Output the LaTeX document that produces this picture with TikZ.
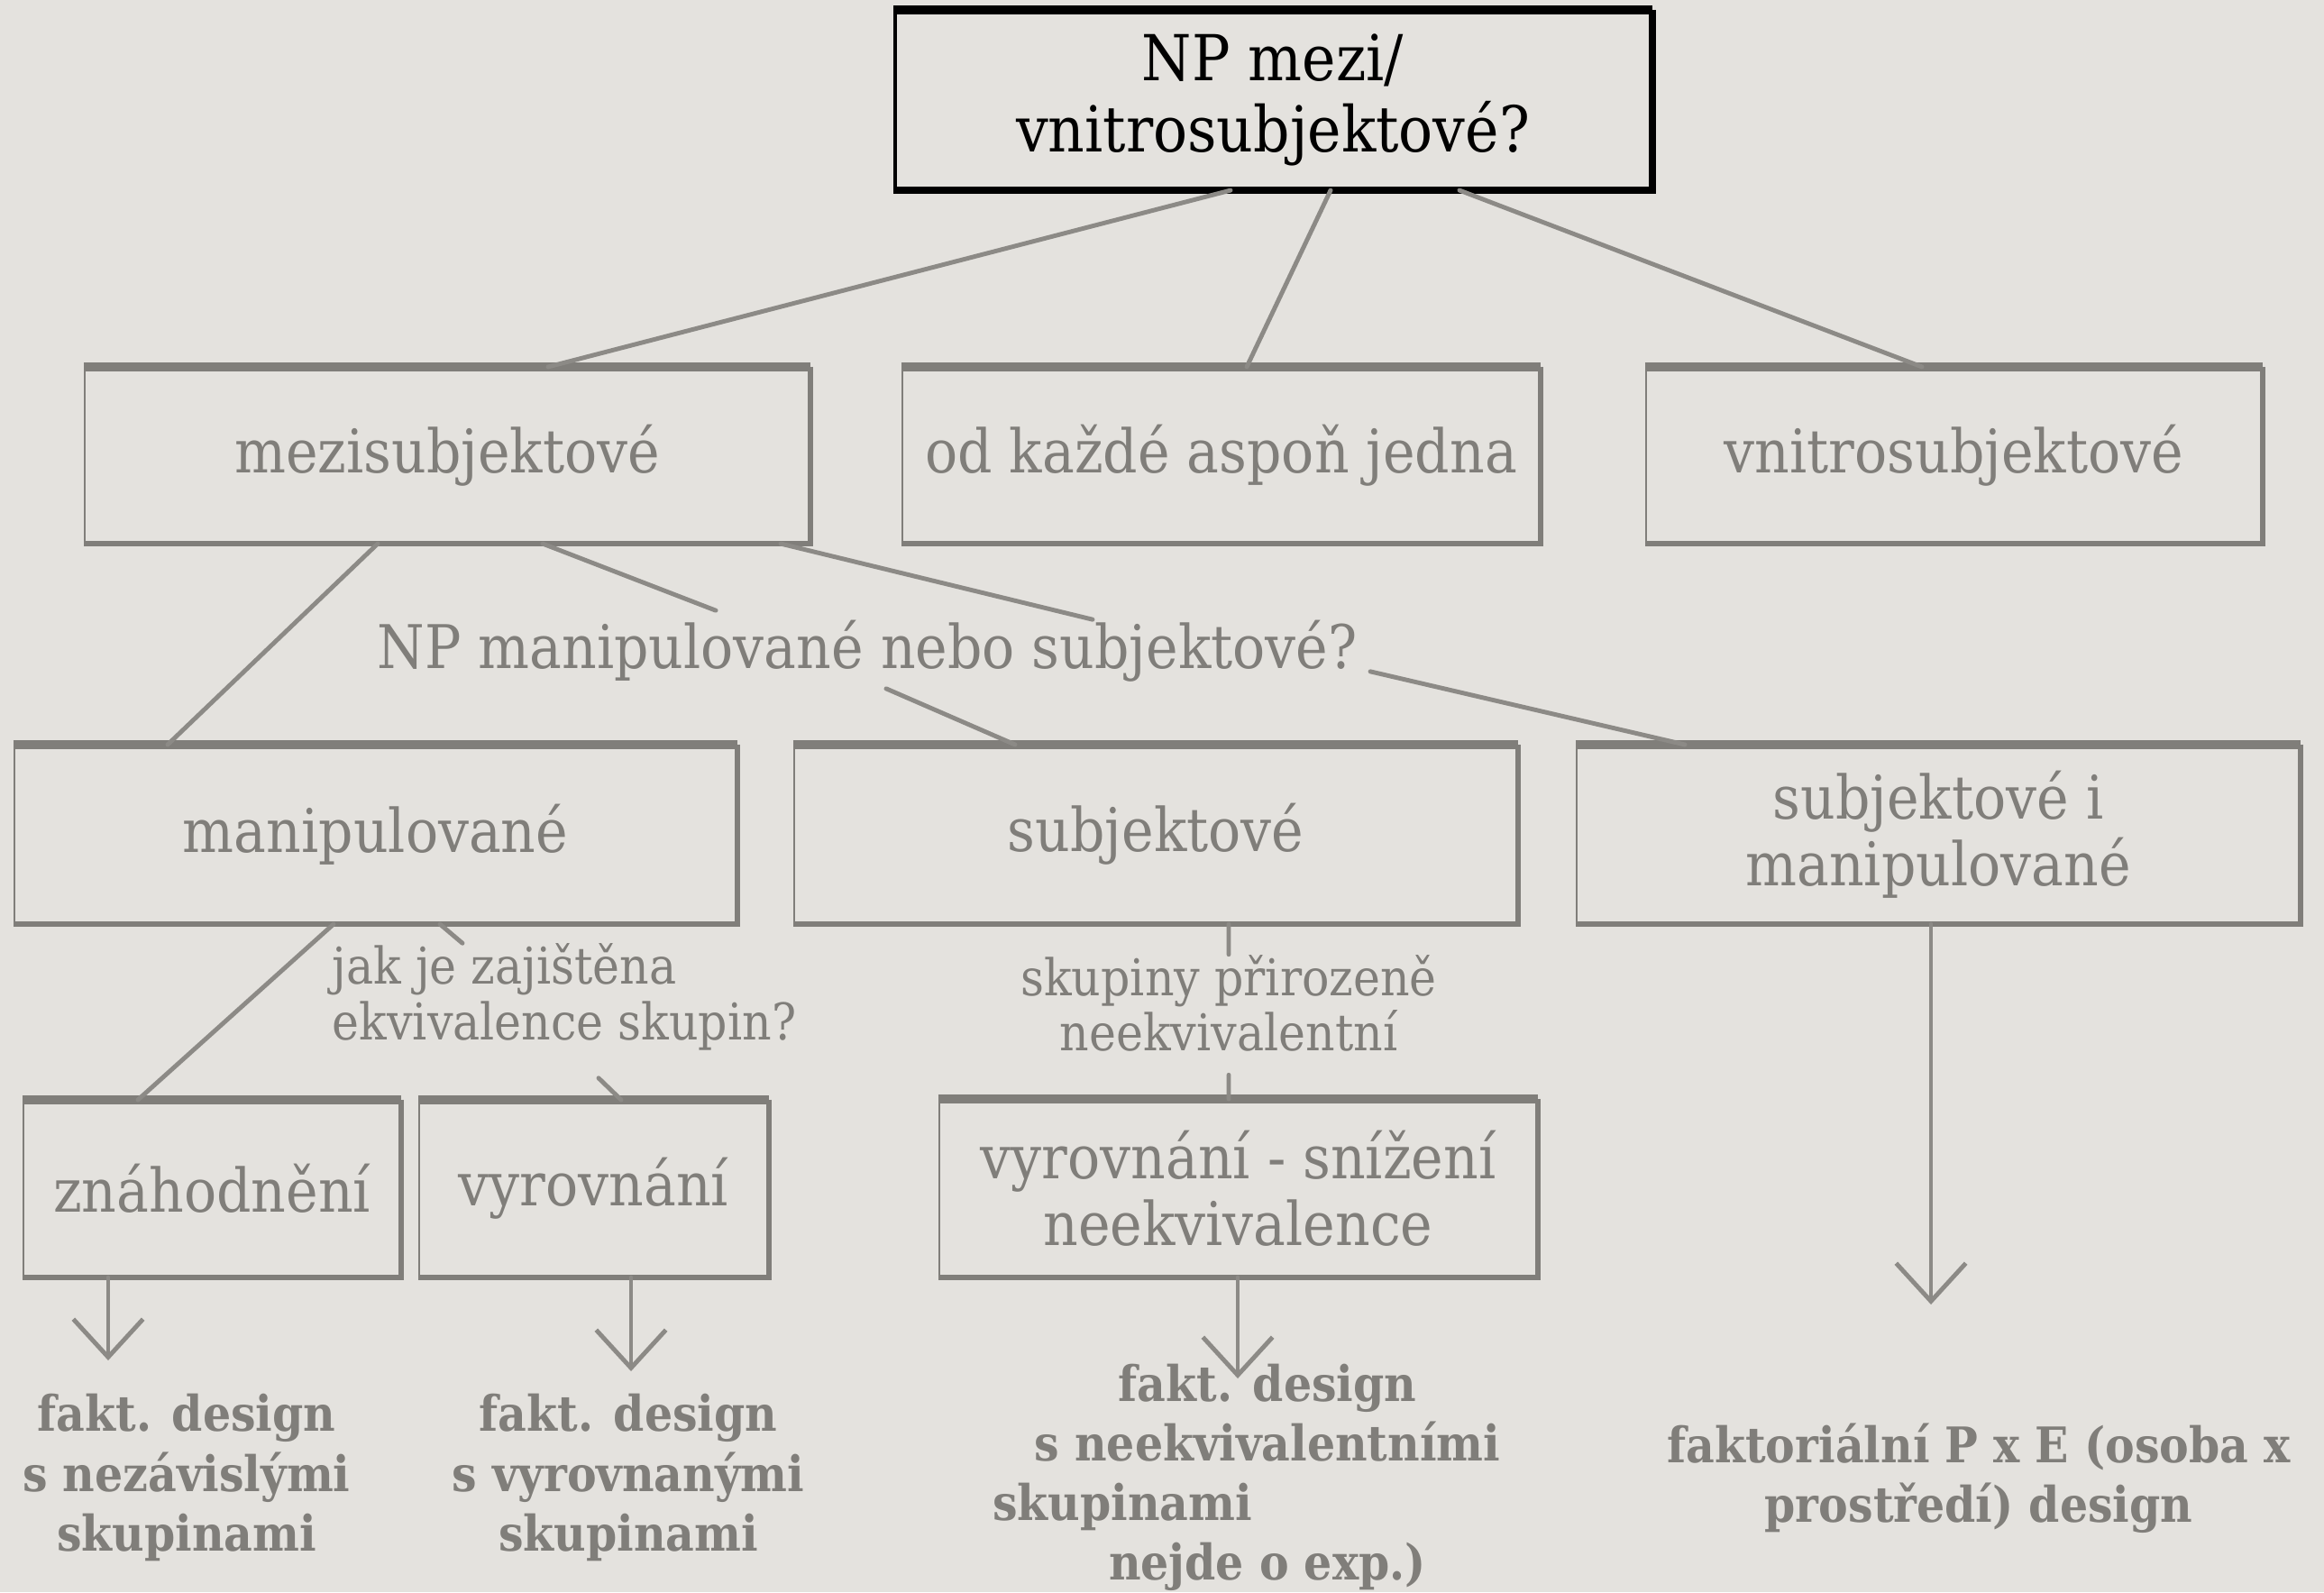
\documentclass[tikz,border=0pt]{standalone}
\usepackage{fontspec}
\setmainfont{DejaVu Serif Condensed}[BoldFont={DejaVu Serif Condensed Bold}]
\usepackage{tikz}
\usetikzlibrary{arrows.meta}

\definecolor{paper}{HTML}{E4E2DE}
\definecolor{ink}{HTML}{807E7A}
\definecolor{stroke}{HTML}{8C8A86}

\tikzset{
  box/.style={draw=ink, line width=0.6pt, text=ink, align=center, inner sep=0pt, font=\fontsize{19}{21}\selectfont},
  heavy/.style={draw=ink, line width=2.6pt},
  side/.style={draw=ink, line width=1.7pt},
  link/.style={draw=stroke, line width=1.4pt, line cap=round},
  pointer/.style={link, -{Straight Barb[length=12pt,width=22pt]}},
  ask/.style={text=ink, align=left, inner sep=0pt, font=\fontsize{16}{17.5}\selectfont},
  result/.style={text=ink, align=center, inner sep=0pt, font=\bfseries\fontsize{15.5}{18.8}\selectfont},
}

\begin{document}
\begin{tikzpicture}

      % paper
      \fill[paper] (0,0) rectangle (25.78,-17.66);
      \useasboundingbox (0,0) rectangle (25.78,-17.66);

      % draw top question
      \node[box, draw=black, text=black, line width=1.2pt, minimum width=8.38cm, minimum height=1.96cm,
            font=\fontsize{20}{22.5}\selectfont] (root) at (14.12,-1.11) {NP mezi/\\vnitrosubjektové?};
      \draw[black, line width=2.8pt] (root.north west) -- (root.north east);
      \draw[black, line width=2pt] (root.north east) -- (root.south east) -- (root.south west);

      % draw first row
      \node[box, minimum width=8.04cm, minimum height=1.94cm] (mezi) at (4.96,-5.05) {mezisubjektové};
      \node[box, minimum width=7.07cm, minimum height=1.94cm] (kazde) at (13.545,-5.05) {od každé aspoň jedna};
      \node[box, minimum width=6.83cm, minimum height=1.94cm] (vnitro) at (21.675,-5.05) {vnitrosubjektové};

      \node[ask, font=\fontsize{19}{21}\selectfont] (otazka) at (9.62,-7.22) {NP manipulované nebo subjektové?};

      % draw second row
      \node[box, minimum width=8.01cm, minimum height=1.97cm] (manip) at (4.165,-9.255) {manipulované};
      \node[box, minimum width=8.02cm, minimum height=1.97cm] (subj) at (12.82,-9.255) {subjektové};
      \node[box, minimum width=8.02cm, minimum height=1.97cm] (subjman) at (21.5,-9.255) {subjektové i\\manipulované};

      \node[ask, anchor=west] (jak) at (3.68,-11.06) {jak je zajištěna\\ekvivalence skupin?};
      \node[ask, align=center] (skupiny) at (13.63,-11.13) {skupiny přirozeně\\neekvivalentní};

      % draw third row
      \node[box, minimum width=4.18cm, minimum height=1.95cm] (znah) at (2.35,-13.185) {znáhodnění};
      \node[box, minimum width=3.87cm, minimum height=1.95cm] (vyrov) at (6.585,-13.185) {vyrovnání};
      \node[box, minimum width=6.63cm, minimum height=1.96cm] (vyrsniz) at (13.735,-13.18) {vyrovnání - snížení\\neekvivalence};

      % heavy box edges
      \foreach \n in {mezi,kazde,vnitro,manip,subj,subjman,znah,vyrov,vyrsniz} {
        \draw[heavy] (\n.north west) -- (\n.north east);
        \draw[side] (\n.north east) -- (\n.south east) -- (\n.south west);
      }

      % draw connectors
      \draw[link] ([xshift=-0.47cm]root.south) -- ([xshift=1.12cm]mezi.north);
      \draw[link] ([xshift=0.64cm]root.south) -- ([xshift=0.285cm]kazde.north);
      \draw[link] ([xshift=2.07cm]root.south) -- ([xshift=-0.355cm]vnitro.north);
      \draw[link] ([xshift=-0.77cm]mezi.south) -- ([xshift=-2.305cm]manip.north);
      \draw[link] ([xshift=1.06cm]mezi.south) -- ([xshift=-1.68cm,yshift=0.1cm]otazka.north);
      \draw[link] ([xshift=3.70cm]mezi.south) -- ([xshift=2.5cm]otazka.north);
      \draw[link] ([xshift=0.21cm,yshift=-0.07cm]otazka.south) -- ([xshift=-1.56cm]subj.north);
      \draw[link] ([xshift=0.14cm,yshift=0.12cm]otazka.south east) -- ([xshift=-2.81cm]subjman.north);
      \draw[link] ([xshift=-0.465cm]manip.south) -- ([xshift=-0.82cm]znah.north);
      \draw[link] ([xshift=0.715cm]manip.south) -- ([xshift=1.45cm]jak.north west);
      \draw[link] ([xshift=2.96cm,yshift=-0.3cm]jak.south west) -- ([xshift=0.305cm]vyrov.north);
      \draw[link] ([xshift=0.81cm]subj.south) -- (skupiny.north);
      \draw[link] ([yshift=-0.25cm]skupiny.south) -- ([xshift=-0.105cm]vyrsniz.north);

      % draw arrows
      \coordinate (a1) at (1.20,-15.09);
      \coordinate (a2) at (7.00,-15.21);
      \coordinate (a3) at (13.73,-15.29);
      \coordinate (a4) at (21.42,-14.47);
      \foreach \b/\c in {znah/a1,vyrov/a2,vyrsniz/a3,subjman/a4}
      \draw[pointer] (\c |- \b.south) -- (\c);

      % draw results
      \node[result] (res1) at (2.07,-16.39) {fakt. design\\s nezávislými\\skupinami};
      \node[result] (res2) at (6.97,-16.39) {fakt. design\\s vyrovnanými\\skupinami};
      \node[result] (res3) at (14.06,-16.39) {fakt. design\\s neekvivalentními\\\makebox[6.1cm][l]{skupinami}\\nejde o exp.)};
      \node[result] (res4) at (21.95,-16.40) {faktoriální P x E (osoba x\\prostředí) design};

\end{tikzpicture}
\end{document}
